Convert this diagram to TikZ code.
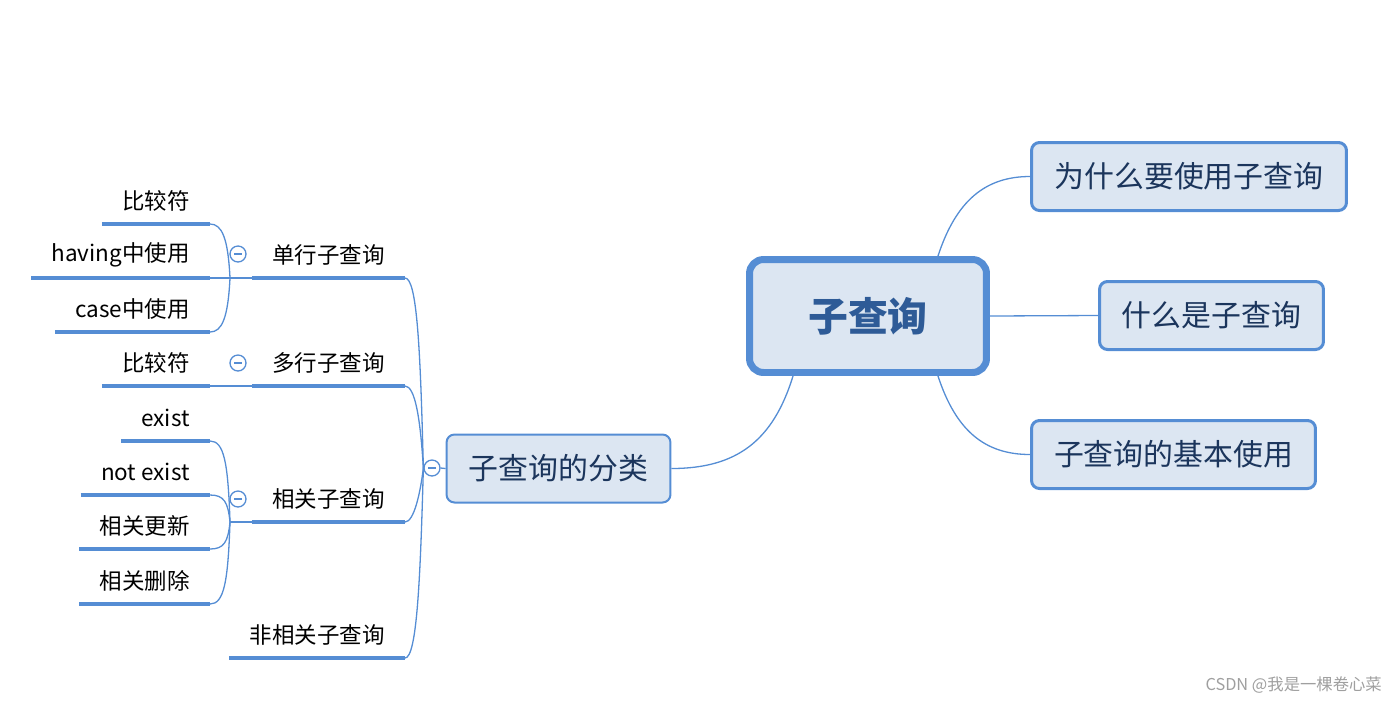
\documentclass[tikz,border=0pt]{standalone}
\usepackage{fontspec}
\setmainfont{Noto Sans CJK SC}

\definecolor{xmline}{HTML}{558DD4}
\definecolor{xmfill}{HTML}{DCE6F2}
\definecolor{xmtext}{HTML}{1B355C}
\definecolor{xmroot}{HTML}{2E5B97}

\tikzset{
  link/.style={draw=xmline, line width=0.026cm},
  uline/.style={draw=xmline, line width=0.08cm},
  rootbox/.style={draw=xmline, fill=xmfill, line width=0.14cm, rounded corners=0.28cm,
    minimum width=4.74cm, minimum height=2.26cm, text=xmroot,
    font=\fontsize{22.7pt}{27pt}\selectfont\bfseries},
  mainbox/.style={draw=xmline, fill=xmfill, line width=0.06cm, rounded corners=0.16cm,
    minimum height=1.36cm, text=xmtext, font=\fontsize{17pt}{20pt}\selectfont},
  leaf/.style={inner xsep=0.4cm, inner ysep=0pt, minimum height=0.92cm, anchor=south east,
    font=\fontsize{12.8pt}{15pt}\selectfont},
  fold/.style={circle, draw=xmline, fill=white, line width=0.026cm, minimum size=0.32cm,
    inner sep=0pt, path picture={\draw[xmline, line width=0.026cm]
      ([xshift=-0.08cm]path picture bounding box.center) --
      ([xshift=0.08cm]path picture bounding box.center);}},
  watermark/.style={text=gray!75, font=\fontsize{9.3pt}{11pt}\selectfont, anchor=east}
}

\begin{document}
\begin{tikzpicture}[x=0.02cm, y=-0.02cm]
\useasboundingbox (0,0) rectangle (1400,701);

% root and right side
\node[rootbox] (root) at (868,316) {子查询};
\node[mainbox, minimum width=6.3cm] (q1) at (1189,176.5) {为什么要使用子查询};
\node[mainbox, minimum width=4.48cm] (q2) at (1211.5,315.5) {什么是子查询};
\node[mainbox, minimum width=5.68cm] (q3) at (1173.5,454.5) {子查询的基本使用};

\draw[link] ([xshift=1.4cm]root.north) .. controls +(18,-55) and +(-45,0) .. (q1.west);
\draw[link] (root.east) -- (q2.west);
\draw[link] ([xshift=1.4cm]root.south) .. controls +(18,55) and +(-45,0) .. (q3.west);

% left side
\node[mainbox, line width=0.04cm, minimum width=4.48cm] (cls) at (558.5,468.5) {子查询的分类};
\draw[link] ([xshift=-1.5cm]root.south) .. controls +(-20,65) and +(65,0) .. (cls.east);

\node[fold] (f0) at (432,468) {};
\draw[link] (f0.east) -- (cls.west);

\node[leaf] (s1) at (405,278) {单行子查询};
\node[leaf] (s2) at (405,386) {多行子查询};
\node[leaf] (s3) at (405,522) {相关子查询};
\node[leaf] (s4) at (405,658) {非相关子查询};

\draw[link] (f0.west) .. controls +(-3,-120) and +(12,0) .. (s1.south east);
\draw[link] (f0.west) .. controls +(-3,-50) and +(10,0) .. (s2.south east);
\draw[link] (f0.west) .. controls +(-3,25) and +(9,0) .. (s3.south east);
\draw[link] (f0.west) .. controls +(-3,110) and +(12,0) .. (s4.south east);

% 单行子查询
\node[leaf] (a1) at (210,224) {比较符};
\node[leaf] (a2) at (210,278) {having中使用};
\node[leaf] (a3) at (210,332) {case中使用};
\coordinate (h1) at (230,278);
\node[fold] (f1) at (238,254) {};
\draw[link] (s1.south west) -- (h1);
\draw[link] (h1) .. controls +(-2,-40) and +(12,0) .. (a1.south east);
\draw[link] (h1) -- (a2.south east);
\draw[link] (h1) .. controls +(-2,40) and +(12,0) .. (a3.south east);

% 多行子查询
\node[leaf] (b1) at (210,386) {比较符};
\node[fold] (f2) at (238,363) {};
\draw[link] (s2.south west) -- (b1.south east);

% 相关子查询
\node[leaf] (c1) at (210,441) {exist};
\node[leaf] (c2) at (210,495) {not exist};
\node[leaf] (c3) at (210,549) {相关更新};
\node[leaf] (c4) at (210,604) {相关删除};
\coordinate (h3) at (230,522);
\node[fold] (f3) at (238,499) {};
\draw[link] (s3.south west) -- (h3);
\draw[link] (h3) .. controls +(-2,-60) and +(14,0) .. (c1.south east);
\draw[link] (h3) .. controls +(-2,-20) and +(14,0) .. (c2.south east);
\draw[link] (h3) .. controls +(-2,20) and +(14,0) .. (c3.south east);
\draw[link] (h3) .. controls +(-2,60) and +(14,0) .. (c4.south east);

\foreach \n in {s1,s2,s3,s4,a1,a2,a3,b1,c1,c2,c3,c4}
  \draw[uline] (\n.south west) -- (\n.south east);

\node[watermark] (wm) at (1388,685) {CSDN @我是一棵卷心菜};

\end{tikzpicture}
\end{document}
